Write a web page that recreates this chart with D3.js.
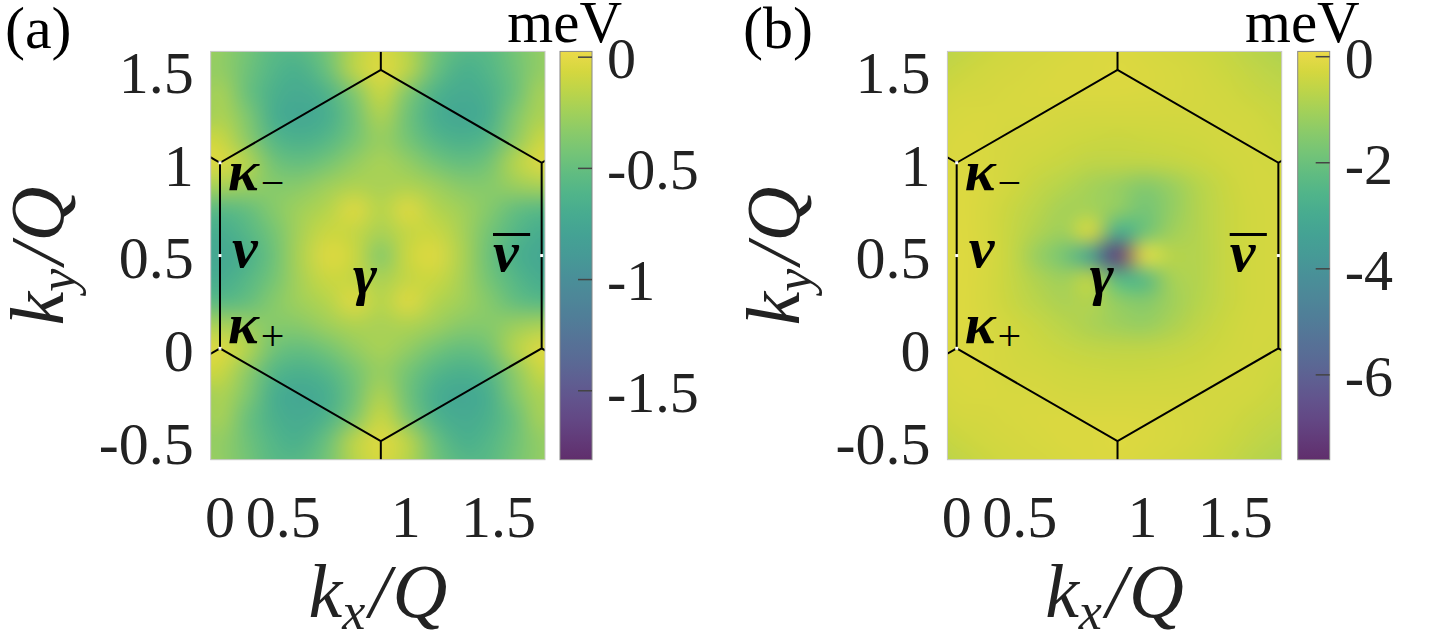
<!DOCTYPE html>
<html>
<head>
<meta charset="utf-8">
<script src="https://cdn.jsdelivr.net/npm/d3@7"></script>
<style>
  body { margin: 0; background: #fff; }
  svg { display: block; }
  .serif { font-family: 'Liberation Serif', 'DejaVu Serif', 'Times New Roman', serif; }
</style>
</head>
<body>
<div id="chart"></div>
<script>
// grid nodes of the k-space maps (kx/Q across, ky/Q down the rows)
const kxNodes = [-0.144, 0, 0.144, 0.289, 0.433, 0.577, 0.722, 0.866, 1.010, 1.155, 1.299, 1.443, 1.588, 1.732, 1.876];
const kyNodes = [1.625, 1.5, 1.375, 1.25, 1.125, 1.0, 0.875, 0.75, 0.625, 0.5, 0.375, 0.25, 0.125, 0, -0.125, -0.25, -0.375, -0.5, -0.625];

// panel (a), meV
const energyA = [
  [-0.22,-0.3,-0.42,-0.56,-0.56,-0.42,-0.18,-0.06,-0.18,-0.42,-0.56,-0.56,-0.42,-0.3,-0.22],
  [-0.32,-0.3,-0.45,-0.6,-0.65,-0.47,-0.15,-0.03,-0.15,-0.47,-0.65,-0.6,-0.45,-0.3,-0.32],
  [-0.32,-0.22,-0.47,-0.65,-0.72,-0.62,-0.38,-0.1,-0.38,-0.62,-0.72,-0.65,-0.47,-0.22,-0.32],
  [-0.32,-0.2,-0.38,-0.68,-0.75,-0.68,-0.45,-0.2,-0.45,-0.68,-0.75,-0.68,-0.38,-0.2,-0.32],
  [-0.1,-0.1,-0.32,-0.58,-0.65,-0.58,-0.42,-0.28,-0.42,-0.58,-0.65,-0.58,-0.32,-0.1,-0.1],
  [-0.05,-0.03,-0.18,-0.44,-0.5,-0.42,-0.3,-0.22,-0.3,-0.42,-0.5,-0.44,-0.18,-0.03,-0.05],
  [-0.24,-0.22,-0.27,-0.35,-0.34,-0.26,-0.2,-0.22,-0.2,-0.26,-0.34,-0.35,-0.27,-0.22,-0.24],
  [-0.5,-0.56,-0.5,-0.35,-0.25,-0.18,-0.03,-0.18,-0.03,-0.18,-0.25,-0.35,-0.5,-0.56,-0.5],
  [-0.68,-0.7,-0.58,-0.42,-0.22,-0.1,-0.12,-0.22,-0.12,-0.1,-0.22,-0.42,-0.58,-0.7,-0.68],
  [-0.72,-0.75,-0.65,-0.46,-0.2,-0.03,-0.1,-0.35,-0.1,-0.03,-0.2,-0.46,-0.65,-0.75,-0.72],
  [-0.68,-0.7,-0.58,-0.42,-0.22,-0.1,-0.12,-0.22,-0.12,-0.1,-0.22,-0.42,-0.58,-0.7,-0.68],
  [-0.5,-0.56,-0.5,-0.35,-0.25,-0.18,-0.03,-0.18,-0.03,-0.18,-0.25,-0.35,-0.5,-0.56,-0.5],
  [-0.24,-0.22,-0.27,-0.35,-0.34,-0.26,-0.2,-0.22,-0.2,-0.26,-0.34,-0.35,-0.27,-0.22,-0.24],
  [-0.05,-0.03,-0.18,-0.44,-0.5,-0.42,-0.3,-0.22,-0.3,-0.42,-0.5,-0.44,-0.18,-0.03,-0.05],
  [-0.1,-0.1,-0.32,-0.58,-0.65,-0.58,-0.42,-0.28,-0.42,-0.58,-0.65,-0.58,-0.32,-0.1,-0.1],
  [-0.32,-0.2,-0.38,-0.68,-0.75,-0.68,-0.45,-0.2,-0.45,-0.68,-0.75,-0.68,-0.38,-0.2,-0.32],
  [-0.32,-0.22,-0.47,-0.65,-0.72,-0.62,-0.38,-0.1,-0.38,-0.62,-0.72,-0.65,-0.47,-0.22,-0.32],
  [-0.32,-0.3,-0.45,-0.6,-0.65,-0.47,-0.15,-0.03,-0.15,-0.47,-0.65,-0.6,-0.45,-0.3,-0.32],
  [-0.22,-0.3,-0.42,-0.56,-0.56,-0.42,-0.18,-0.06,-0.18,-0.42,-0.56,-0.56,-0.42,-0.3,-0.22]
];

// panel (b), meV
const energyB = [
  [-0.75,-0.6,-0.45,-0.35,-0.3,-0.25,-0.2,-0.2,-0.25,-0.3,-0.4,-0.5,-0.7,-0.85,-0.95],
  [-0.6,-0.45,-0.35,-0.28,-0.25,-0.2,-0.18,-0.15,-0.2,-0.25,-0.32,-0.42,-0.55,-0.7,-0.8],
  [-0.45,-0.32,-0.28,-0.25,-0.22,-0.2,-0.2,-0.2,-0.22,-0.25,-0.28,-0.35,-0.45,-0.55,-0.65],
  [-0.35,-0.25,-0.22,-0.25,-0.25,-0.28,-0.3,-0.3,-0.3,-0.3,-0.3,-0.3,-0.35,-0.45,-0.55],
  [-0.28,-0.2,-0.22,-0.28,-0.32,-0.38,-0.42,-0.45,-0.42,-0.4,-0.36,-0.32,-0.32,-0.4,-0.48],
  [-0.22,-0.18,-0.22,-0.3,-0.4,-0.5,-0.6,-0.62,-0.6,-0.55,-0.45,-0.36,-0.3,-0.35,-0.42],
  [-0.2,-0.16,-0.22,-0.35,-0.55,-0.75,-1.0,-1.2,-1.5,-1.2,-0.75,-0.45,-0.32,-0.3,-0.35],
  [-0.18,-0.15,-0.25,-0.45,-0.7,-1.0,-1.0,-1.3,-1.8,-1.3,-0.8,-0.5,-0.35,-0.28,-0.3],
  [-0.16,-0.14,-0.25,-0.5,-0.85,-1.1,-0.2,-3.0,-1.9,-1.1,-0.8,-0.5,-0.35,-0.28,-0.3],
  [-0.15,-0.12,-0.22,-0.5,-1.2,-1.8,-3.5,-7.2,0.0,-0.7,-0.8,-0.5,-0.35,-0.28,-0.3],
  [-0.16,-0.14,-0.25,-0.5,-0.85,-1.1,-0.6,-2.4,-2.4,-1.0,-0.8,-0.5,-0.35,-0.28,-0.3],
  [-0.18,-0.15,-0.25,-0.45,-0.7,-0.9,-0.8,-1.3,-1.5,-1.1,-0.75,-0.5,-0.35,-0.28,-0.3],
  [-0.2,-0.16,-0.22,-0.35,-0.5,-0.7,-0.9,-1.1,-1.2,-0.9,-0.6,-0.42,-0.32,-0.3,-0.35],
  [-0.22,-0.18,-0.22,-0.3,-0.4,-0.5,-0.58,-0.6,-0.62,-0.55,-0.45,-0.36,-0.3,-0.35,-0.42],
  [-0.28,-0.2,-0.22,-0.28,-0.32,-0.36,-0.4,-0.42,-0.42,-0.4,-0.36,-0.32,-0.32,-0.4,-0.48],
  [-0.35,-0.25,-0.22,-0.25,-0.25,-0.28,-0.3,-0.3,-0.3,-0.3,-0.3,-0.3,-0.35,-0.45,-0.55],
  [-0.45,-0.32,-0.28,-0.25,-0.22,-0.2,-0.2,-0.2,-0.22,-0.25,-0.28,-0.35,-0.45,-0.55,-0.65],
  [-0.6,-0.45,-0.35,-0.28,-0.25,-0.2,-0.18,-0.15,-0.2,-0.25,-0.32,-0.42,-0.55,-0.7,-0.8],
  [-0.75,-0.6,-0.45,-0.35,-0.3,-0.25,-0.2,-0.2,-0.25,-0.3,-0.4,-0.5,-0.7,-0.85,-0.95]
];

const yTicks = [-0.5, 0, 0.5, 1, 1.5];
const yTickLabels = ['-0.5', '0', '0.5', '1', '1.5'];
const xTickAt = [0, 0.34, 1, 1.5];
const xTickLabels = ['0', '0.5', '1', '1.5'];
const cbTicksA = [0, -0.5, -1, -1.5];
const cbTicksB = [0, -2, -4, -6];
const cbRangeA = [-1.81, 0.026];
const cbRangeB = [-7.6, 0.1];

// Brillouin zone outline and the honeycomb spokes leaving it
const hexCorners = [[0, 1], [0.866, 1.5], [1.732, 1], [1.732, 0], [0.866, -0.5], [0, 0]];
const spokes = [
  [[0, 1], [-0.866, 1.5]], [[0, 0], [-0.866, -0.5]],
  [[0.866, 1.5], [0.866, 2.5]], [[0.866, -0.5], [0.866, -1.5]],
  [[1.732, 1], [2.598, 1.5]], [[1.732, 0], [2.598, -0.5]]
];
const markPoints = [[0, 1], [0, 0.5], [0, 0], [1.732, 0.5]];

const W = 1432, H = 635;

const svg = d3.select('#chart').append('svg')
  .attr('width', W).attr('height', H)
  .attr('viewBox', `0 0 ${W} ${H}`);
const defs = svg.append('defs');

defs.append('filter').attr('id', 'soft')
  .attr('x', '-5%').attr('y', '-5%').attr('width', '110%').attr('height', '110%')
  .append('feGaussianBlur').attr('stdDeviation', 4);

const mute = c => d3.interpolateRgb(c, '#b4b4b4')(0.25);

function fieldImage(grid, color) {
  const rows = grid.length, cols = grid[0].length;
  const small = document.createElement('canvas');
  small.width = cols; small.height = rows;
  const ctx = small.getContext('2d');
  const img = ctx.createImageData(cols, rows);
  grid.forEach((row, j) => row.forEach((v, i) => {
    const c = d3.rgb(color(v));
    const k = 4 * (j * cols + i);
    img.data[k] = c.r; img.data[k + 1] = c.g; img.data[k + 2] = c.b; img.data[k + 3] = 255;
  }));
  ctx.putImageData(img, 0, 0);
  const big = document.createElement('canvas');
  big.width = cols * 32; big.height = rows * 32;
  const bctx = big.getContext('2d');
  bctx.imageSmoothingEnabled = true;
  bctx.imageSmoothingQuality = 'high';
  bctx.drawImage(small, 0, 0, big.width, big.height);
  return big.toDataURL();
}

function drawPanel(p) {
  const xs = d3.scaleLinear().domain([-0.05, 1.75]).range([p.x0, p.x0 + 334.3]);
  const ys = d3.scaleLinear().domain([-0.6, 1.6]).range([459.7, 51.4]);
  const cs = d3.scaleLinear().domain(p.cbRange).range([459.7, 51.4]);
  const color = v => mute(d3.interpolateViridis(Math.max(0, Math.min(1,
    (v - p.cbRange[0]) / (p.cbRange[1] - p.cbRange[0])))));

  const clipId = 'clip-' + p.id;
  defs.append('clipPath').attr('id', clipId)
    .append('rect')
    .attr('x', xs(-0.05)).attr('y', ys(1.6))
    .attr('width', xs(1.75) - xs(-0.05)).attr('height', ys(-0.6) - ys(1.6));

  const g = svg.append('g').attr('clip-path', `url(#${clipId})`);
  const dx = kxNodes[1] - kxNodes[0], dy = kyNodes[0] - kyNodes[1];
  g.append('image')
    .attr('href', fieldImage(p.grid, color))
    .attr('preserveAspectRatio', 'none')
    .attr('filter', 'url(#soft)')
    .attr('x', xs(kxNodes[0] - dx / 2))
    .attr('y', ys(kyNodes[0] + dy / 2))
    .attr('width', xs(kxNodes[kxNodes.length - 1] + dx / 2) - xs(kxNodes[0] - dx / 2))
    .attr('height', ys(kyNodes[kyNodes.length - 1] - dy / 2) - ys(kyNodes[0] + dy / 2));

  const line = d3.line().x(d => xs(d[0])).y(d => ys(d[1]));
  g.append('path')
    .attr('d', line(hexCorners) + 'Z')
    .attr('fill', 'none').attr('stroke', '#000').attr('stroke-width', 2);
  spokes.forEach(s => g.append('path')
    .attr('d', line(s))
    .attr('fill', 'none').attr('stroke', '#000').attr('stroke-width', 2));
  g.selectAll('rect.mark').data(markPoints).join('rect')
    .attr('class', 'mark')
    .attr('x', d => xs(d[0]) - 1.5).attr('y', d => ys(d[1]) - 1.5)
    .attr('width', 3).attr('height', 3).attr('fill', '#fff');

  // frame
  svg.append('rect')
    .attr('x', xs(-0.05)).attr('y', ys(1.6))
    .attr('width', xs(1.75) - xs(-0.05)).attr('height', ys(-0.6) - ys(1.6))
    .attr('fill', 'none').attr('stroke', '#c8c8c8').attr('stroke-width', 1);

  // point labels inside the zone
  const greek = svg.append('g').attr('class', 'serif')
    .attr('font-style', 'italic').attr('font-weight', 'bold')
    .attr('font-size', 58).attr('fill', '#000');
  const kappa = (y, sub) => {
    const t = greek.append('text').attr('x', xs(0.043)).attr('y', ys(y));
    t.append('tspan').text('κ');
    t.append('tspan').attr('font-size', 42).attr('font-style', 'normal')
      .attr('font-weight', 'normal').attr('dx', 2).attr('dy', 7).text(sub);
  };
  kappa(0.853, '−');
  kappa(0.029, '+');
  greek.append('text').attr('x', xs(0.065)).attr('y', ys(0.437)).text('ν');
  greek.append('text').attr('x', xs(0.716)).attr('y', ys(0.293)).text('γ');
  greek.append('text').attr('x', xs(1.47)).attr('y', ys(0.416)).text('ν');
  svg.append('line')
    .attr('x1', xs(1.47)).attr('x2', xs(1.67))
    .attr('y1', ys(0.614)).attr('y2', ys(0.614))
    .attr('stroke', '#000').attr('stroke-width', 3);

  // tick labels
  const ticks = svg.append('g').attr('class', 'serif').attr('font-size', 60).attr('fill', '#222');
  ticks.selectAll('text.y').data(yTicks).join('text')
    .attr('class', 'y')
    .attr('x', p.x0 - 17).attr('y', d => ys(d)).attr('dy', '0.38em')
    .attr('text-anchor', 'end')
    .text((d, i) => yTickLabels[i]);
  ticks.selectAll('text.x').data(xTickAt).join('text')
    .attr('class', 'x')
    .attr('x', d => xs(d)).attr('y', 537)
    .attr('text-anchor', 'middle')
    .text((d, i) => xTickLabels[i]);

  // axis titles
  const title = (tr, sub) => {
    const t = svg.append('text').attr('transform', tr).attr('class', 'serif')
      .attr('font-style', 'italic')
      .attr('font-size', 76).attr('fill', '#222').attr('text-anchor', 'middle');
    t.append('tspan').text('k');
    t.append('tspan').attr('font-size', 52).attr('dy', 12).text(sub);
    t.append('tspan').attr('dy', -12).attr('dx', 4).text('/');
    t.append('tspan').attr('dx', 2).text('Q');
  };
  title(`translate(${(xs(-0.05) + xs(1.75)) / 2},617)`, 'x');
  title(`translate(${p.x0 - 148},256) rotate(-90)`, 'y');

  // panel tag
  svg.append('text').attr('class', 'serif').attr('x', p.tagX).attr('y', 48)
    .attr('font-size', 60).attr('fill', '#000')
    .text(p.tag);

  // colorbar
  const gradId = 'grad-' + p.id;
  const grad = defs.append('linearGradient').attr('id', gradId)
    .attr('x1', 0).attr('y1', 1).attr('x2', 0).attr('y2', 0);
  d3.range(0, 1.0001, 0.05).forEach(s => grad.append('stop')
    .attr('offset', s)
    .attr('stop-color', color(p.cbRange[0] + s * (p.cbRange[1] - p.cbRange[0]))));
  const cbW = 32;
  svg.append('rect')
    .attr('x', p.cbX).attr('y', cs(p.cbRange[1]))
    .attr('width', cbW).attr('height', cs(p.cbRange[0]) - cs(p.cbRange[1]))
    .attr('fill', `url(#${gradId})`).attr('stroke', '#888').attr('stroke-width', 1);
  svg.selectAll('line.cbt-' + p.id).data(p.cbTicks).join('line')
    .attr('class', 'cbt-' + p.id)
    .attr('x1', p.cbX + cbW - 14).attr('x2', p.cbX + cbW)
    .attr('y1', d => cs(d)).attr('y2', d => cs(d))
    .attr('stroke', '#444').attr('stroke-width', 1.5);
  svg.append('g').attr('class', 'serif').attr('font-size', 58).attr('fill', '#222')
    .selectAll('text').data(p.cbTicks).join('text')
    .attr('x', p.cbX + cbW + 15).attr('y', d => cs(d)).attr('dy', '0.36em')
    .text(d => String(d));
  svg.append('text').attr('class', 'serif')
    .attr('x', p.cbX + 62).attr('y', 42).attr('text-anchor', 'end')
    .attr('font-size', 59).attr('fill', '#000')
    .text('meV');
}

drawPanel({ id: 'a', tag: '(a)', tagX: 5, x0: 210.7, cbX: 560, grid: energyA, cbRange: cbRangeA, cbTicks: cbTicksA });
drawPanel({ id: 'b', tag: '(b)', tagX: 743, x0: 947.4, cbX: 1297.7, grid: energyB, cbRange: cbRangeB, cbTicks: cbTicksB });
</script>
</body>
</html>
